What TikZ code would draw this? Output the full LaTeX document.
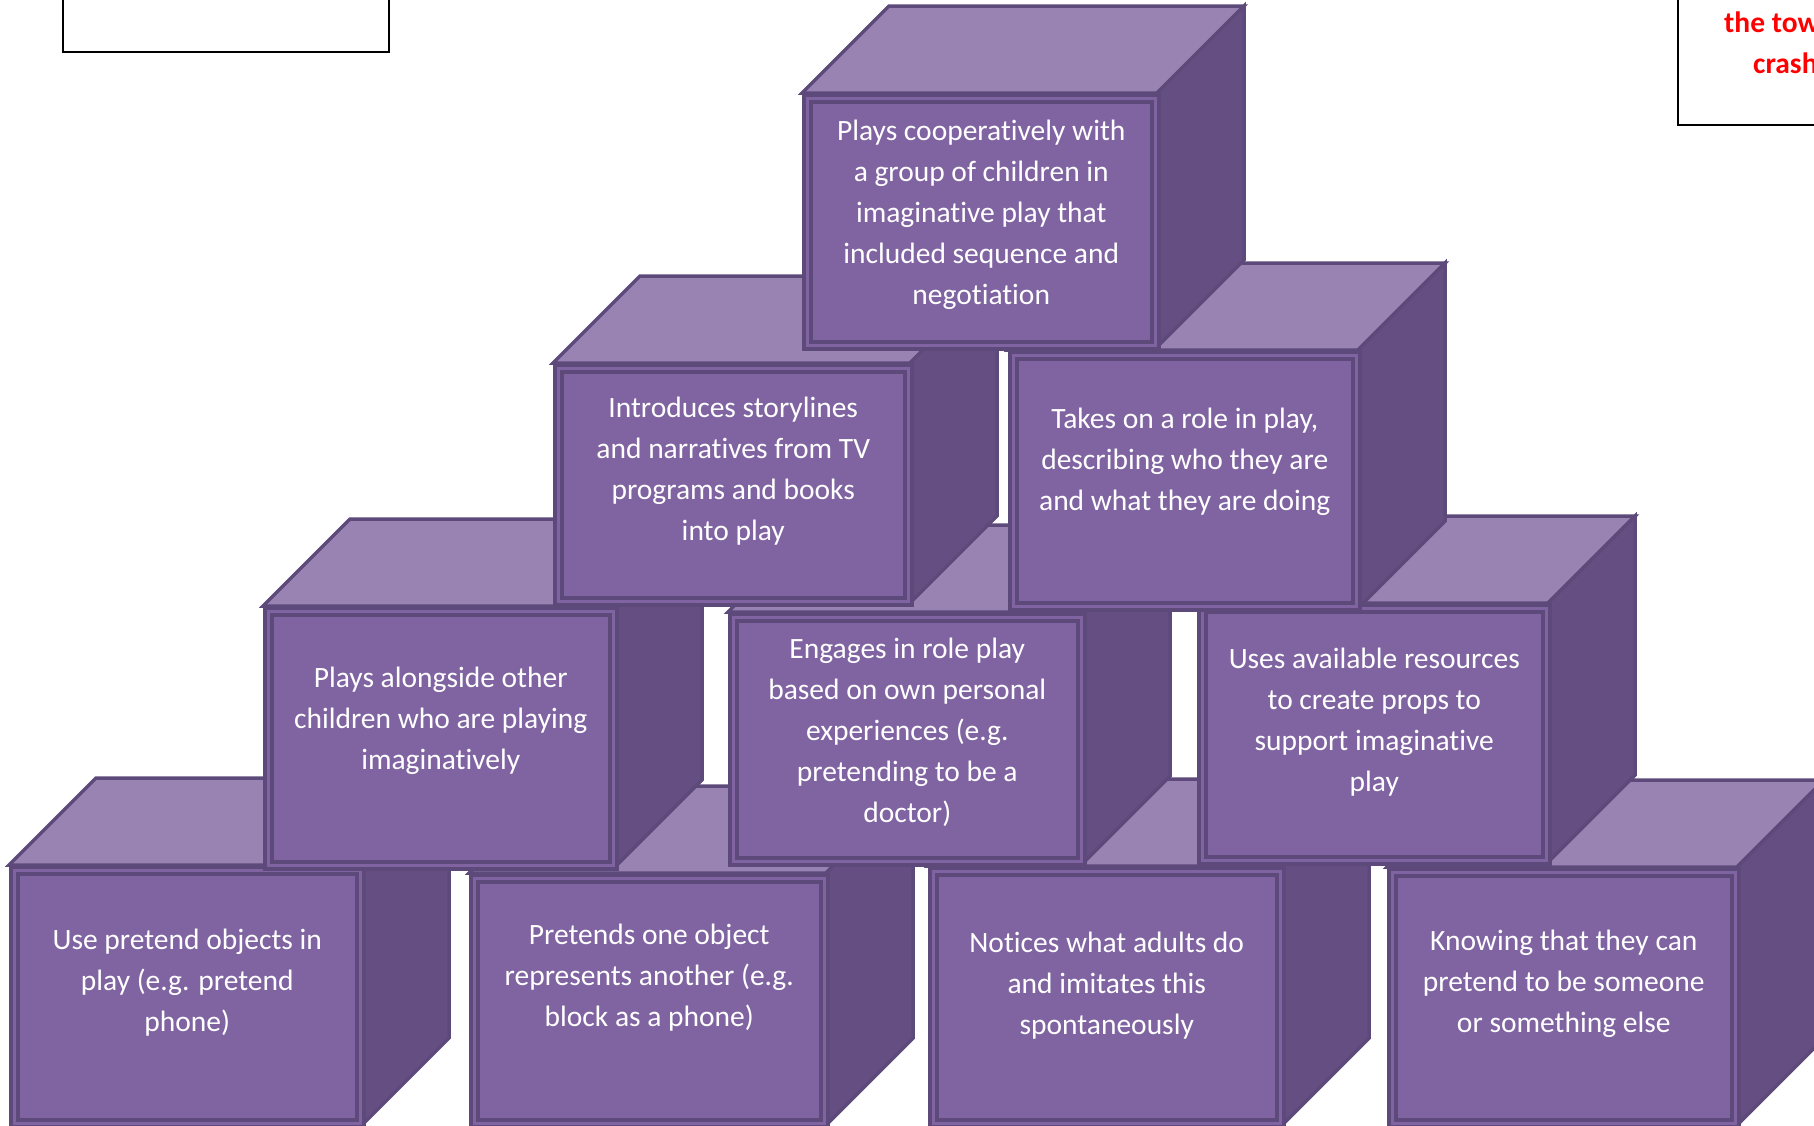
\documentclass[tikz,border=0pt]{standalone}
\usepackage{fontspec}
\setmainfont{Carlito}[Ligatures=NoCommon]
\definecolor{topcol}{HTML}{9883B3}
\definecolor{frontcol}{HTML}{8064A2}
\definecolor{sidecol}{HTML}{654F82}
\definecolor{edgecol}{HTML}{5D4A7B}
\definecolor{warnred}{HTML}{FF0000}
\tikzset{
  topface/.style={fill=topcol, draw=edgecol, line width=3.5pt},
  sideface/.style={fill=sidecol, draw=edgecol, line width=3.5pt},
  frontface/.style={rectangle, fill=frontcol, draw=edgecol, line width=3.5pt, inner sep=0pt, anchor=north west},
  innerbox/.style={rectangle, draw=edgecol, line width=4pt, inner sep=0pt},
  cubetext/.style={text=white, align=center, font=\fontsize{29.5}{41}\selectfont},
  frame/.style={draw=black, line width=2.5pt},
  redtext/.style={text=warnred, anchor=base west, inner sep=0pt, font=\fontsize{29.5}{41}\selectfont\bfseries},
}
\newcommand{\cubedepth}{87}
% #1 name, #2 #3 top left of front face, #4 width, #5 height, #6 lift of text, #7 text
\newcommand{\playcube}[7]{
  \draw[topface] (#2,#3) -- ++(\cubedepth,-\cubedepth) -- ++(#4,0) -- ++(-\cubedepth,\cubedepth) -- cycle;
  \draw[sideface] (#2+#4,#3) -- ++(\cubedepth,-\cubedepth) -- ++(0,#5) -- ++(-\cubedepth,\cubedepth) -- cycle;
  \node[frontface, minimum width=#4pt, minimum height=#5pt] (#1) at (#2,#3) {};
  \node[innerbox, minimum width=#4pt-14pt, minimum height=#5pt-14pt] (#1-in) at (#1.center) {};
  \node[cubetext] (#1-txt) at ([yshift=#6pt]#1.center) {#7};
}
\begin{document}
\begin{tikzpicture}[x=1pt, y=-1pt]
  \useasboundingbox (0,0) rectangle (1814,1125);
  \fill[white] (0,0) rectangle (1814,1125);
  \draw[frame] (63,-10) rectangle (389,52);
  \draw[frame] (1678,-10) rectangle (1830,125);
  \node[redtext] (warn1) at (1724,32) {the tow};
  \node[redtext] (warn2) at (1753,73) {crash};
  % bottom row
  \playcube{objects}{9}{865}{353}{260}{14}{Use pretend objects in\\play (e.g. pretend\\phone)}
  \playcube{represents}{469}{873}{357}{252}{23}{Pretends one object\\represents another (e.g.\\block as a phone)}
  \playcube{imitates}{928}{866}{354}{259}{12}{Notices what adults do\\and imitates this\\spontaneously}
  \playcube{someone}{1387}{867}{350}{258}{14}{Knowing that they can\\pretend to be someone\\or something else}
  % third row
  \playcube{alongside}{263}{606}{352}{261}{17}{Plays alongside other\\children who are playing\\imaginatively}
  \playcube{experience}{728}{612}{355}{251}{7}{Engages in role play\\based on own personal\\experiences (e.g.\\pretending to be a\\doctor)}
  \playcube{props}{1197}{603}{351}{259}{12}{Uses available resources\\to create props to\\support imaginative\\play}
  % second row
  \playcube{stories}{553}{363}{357}{240}{14}{Introduces storylines\\and narratives from TV\\programs and books\\into play}
  \playcube{role}{1008}{350}{350}{258}{19}{Takes on a role in play,\\describing who they are\\and what they are doing}
  % top
  \playcube{group}{802}{93}{355}{254}{7}{Plays cooperatively with\\a group of children in\\imaginative play that\\included sequence and\\negotiation}
\end{tikzpicture}
\end{document}
